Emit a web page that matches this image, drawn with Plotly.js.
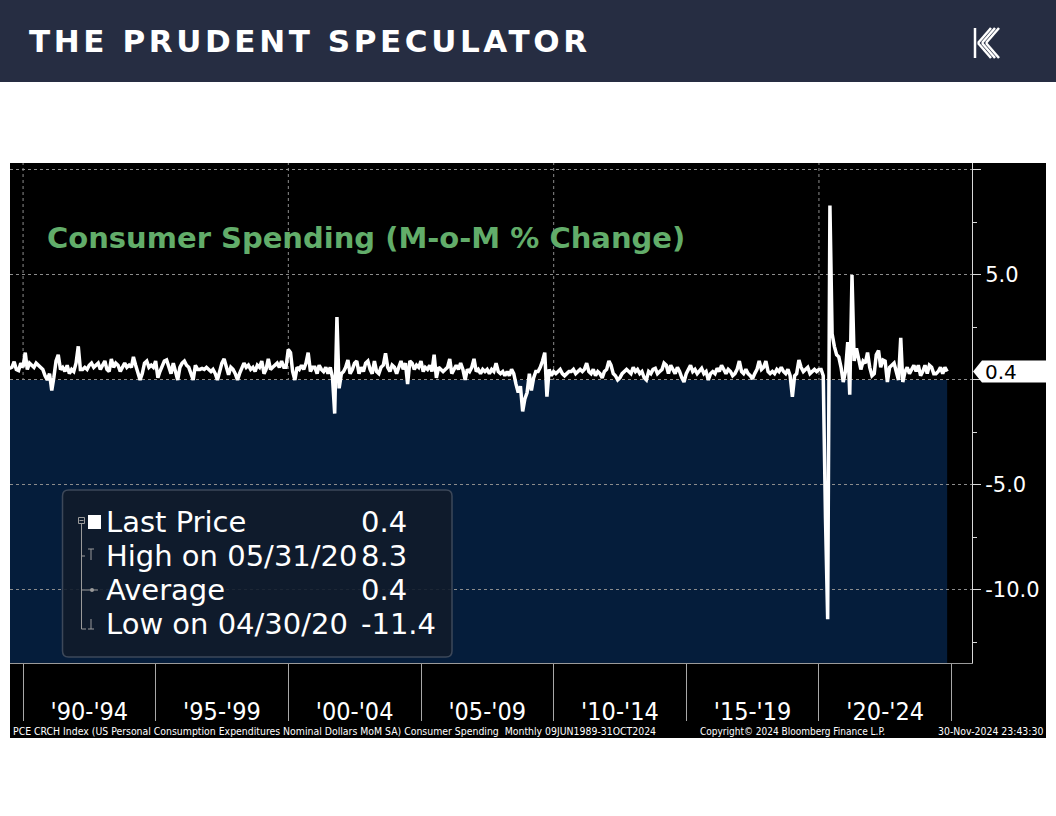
<!DOCTYPE html>
<html>
<head>
<meta charset="utf-8">
<script src="https://cdn.plot.ly/plotly-3.0.1.min.js"></script>
<style>
  html, body { margin: 0; padding: 0; background: #ffffff; }
  #chart { width: 1056px; height: 816px; }
  .annotation[data-index="0"] text { letter-spacing: 3.6px; }
</style>
</head>
<body>
<div id="chart"></div>
<script>
// Consumer Spending, PCE month-over-month % change (Bloomberg style chart)

// monthly values, Jun 1989 .. Oct 2024
const p1989to1994 = [
    0.55, 0.6, 0.87, 0.5, 0.45, 0.8, 0.6,
    1.3, 0.5, 0.8, 0.7, 0.6, 0.8, 0.7, 0.6, 0.5, 0.2, 0.0, 0.3,
    -0.5, 0.1, 0.9, 1.2, 0.5, 0.6, 0.4, 0.7, 0.3, 0.5, 0.4, 0.8,
    1.6, 0.5, 0.5, 0.6, 0.5, 0.7, 0.8, 0.6, 0.7, 0.8, 0.5, 0.7,
    0.9, 0.5, 0.4, 1.0, 0.6, 0.8, 0.7, 0.4, 0.6, 0.8, 0.6, 0.7,
    0.6, 1.1, 0.7, 0.4, 0.0, 0.3, 0.8, 0.9, 0.6, 0.7, 0.6, 0.9
];
const p1995to1999 = [
    0.1, 0.4, 0.7, 0.9, 0.95, 0.6, 0.3, 0.8, 0.4, 0.0, 0.6, 0.8,
    0.9, 0.7, 0.6, 0.3, 0.0, 0.7, 0.5, 0.5, 0.55, 0.5, 0.6, 0.5,
    0.4, 0.5, 0.3, 0.0, 0.4, 0.8, 1.0, 0.6, 0.25, 0.6, 0.5, 0.3,
    0.0, 0.3, 0.6, 0.8, 0.6, 0.7, 0.5, 0.6, 0.4, 0.7, 0.6, 0.9,
    0.3, 0.5, 1.0, 0.5, 0.6, 0.7, 0.8, 0.6, 0.9, 0.6, 0.6, 1.45
];
const p2000to2004 = [
    1.3, 0.4, 0.0, 0.6, 0.5, 0.7, 0.5, 0.8, 1.3, 0.4, 0.6, 0.6,
    0.3, 0.7, 0.5, 0.4, 0.6, 0.3, 0.6, 0.1, -1.6, 3.0, -0.4, 0.3,
    0.4, 0.6, 0.95, 0.3, 0.5, 0.8, 0.9, 0.3, 0.6, 0.4, 0.8, 0.9,
    0.5, 0.3, 0.9, 0.4, 0.3, 0.6, 0.7, 1.27, 0.6, 0.4, 0.7, 0.6,
    0.3, 0.6, 0.9, 0.5, 0.8, -0.2, 0.9, 0.8, 0.5, 0.7, 0.6, 0.9
];
const p2005to2009 = [
    0.4, 0.6, 0.5, 0.7, 0.4, 1.2, 0.1, 0.6, 0.5, 0.4, 0.5, 0.6,
    1.0, 0.3, 0.5, 0.7, 0.5, 0.8, 0.5, 0.0, 0.5, 0.4, 0.6, 1.0,
    0.4, 0.5, 0.3, 0.5, 0.4, 0.5, 0.3, 0.5, 0.4, 0.8, 0.4, 0.3,
    0.4, 0.2, 0.4, 0.2, 0.5, 0.3, -0.2, -0.6, -0.3, -1.5, -0.9, -0.6,
    0.3, -0.5, 0.1, 0.4, 0.4, 0.6, 0.9, 1.3, -0.8, 0.5, 0.2, 0.4
];
const p2010to2014 = [
    0.3, 0.4, 0.5, 0.3, 0.2, 0.3, 0.4, 0.4, 0.5, 0.3, 0.4, 0.5,
    0.4, 0.5, 0.8, 0.4, 0.3, 0.5, 0.2, 0.4, 0.3, 0.1, 0.4, 0.5,
    0.9, 0.7, 0.3, 0.2, 0.0, 0.1, 0.3, 0.4, 0.5, 0.4, 0.3, 0.6,
    0.4, 0.5, 0.3, 0.4, 0.1, 0.0, 0.4, 0.3, 0.5, 0.55, 0.3, 0.4,
    0.5, 0.8, 0.7, 0.3, 0.7, 0.5, 0.3, 0.6, 0.4, 0.1, -0.1, 0.3
];
const p2015to2019 = [
    0.5, 0.7, 0.4, 0.5, 0.3, 0.4, 0.55, 0.3, 0.4, 0.0, 0.3, 0.4,
    0.3, 0.55, 0.4, 0.7, 0.5, 0.3, 0.5, 0.4, 0.2, 0.3, 0.5, 0.9,
    0.4, 0.3, 0.5, 0.3, 0.2, 0.05, 0.3, 0.5, 0.9, 0.5, 0.6, 0.9,
    0.4, 0.3, 0.4, 0.3, 0.5, 0.4, 0.6, 0.4, 0.3, 0.5, 0.2, -0.8,
    0.2, 0.3, 0.95, 0.6, 0.4, 0.5, 0.6, 0.3, 0.4, 0.5, 0.4, 0.5
];
const p2020to2024 = [
    0.5, 0.2, -6.6, -11.4, 8.3, 2.2, 1.6, 1.2, 1.1, 0.6, -0.1, 0.4,
    1.8, -0.7, 5.0, 0.9, 1.5, 1.0, 0.5, 0.9, 0.8, 1.3, 0.6, 0.2,
    0.3, 1.2, 1.4, 0.6, 0.95, 0.9, -0.1, 0.6, 0.7, 0.8, 0.4, 0.0,
    2.0, -0.1, 0.4, 0.6, 0.3, 0.5, 0.7, 0.4, 0.7, 0.2, 0.4, 0.7,
    0.3, 0.7, 0.6, 0.3, 0.3, 0.4, 0.6, 0.3, 0.6, 0.4
];
const firstYear = 1989;
const firstMonth = 6;

// x axis bands
const periodLabels = ["'90-'94", "'95-'99", "'00-'04", "'05-'09", "'10-'14", "'15-'19", "'20-'24"];
const periodMids = ['1992-07-01', '1997-07-01', '2002-07-01', '2007-07-01', '2012-07-01', '2017-07-01', '2022-07-01'];
const periodEdges = ['1990-01-01', '1995-01-01', '2000-01-01', '2005-01-01', '2010-01-01', '2015-01-01', '2020-01-01', '2025-01-01'];
const decadeLines = ['1990-01-01', '2000-01-01', '2010-01-01', '2020-01-01'];

// y axis
const yTickVals = [-10, -5, 0, 5, 10];
const yTickText = ['-10.0', '-5.0', '', '5.0', ''];
const yMinorVals = [-12.5, -7.5, -2.5, 2.5, 7.5];

// legend box rows, as printed on the chart
const legendNames = ['Last Price', 'High on 05/31/20', 'Average', 'Low on 04/30/20'];
const legendValues = ['0.4', '8.3', '0.4', '-11.4'];

// =========================================================================

const W = 1056, H = 816;
const px = x => x / W;
const py = y => 1 - y / H;

const values = [].concat(p1989to1994, p1995to1999, p2000to2004, p2005to2009,
    p2010to2014, p2015to2019, p2020to2024);

// month-end dates
const dates = values.map((v, i) => {
    const d = new Date(Date.UTC(firstYear, firstMonth - 1 + i + 1, 0));
    return d.toISOString().slice(0, 10);
});

const yRange = [-13.48, 10.33];
const lastValue = values[values.length - 1];

const grey = '#8c8c8c';
const shapes = [];

// header band and chart background
shapes.push({type: 'rect', xref: 'paper', yref: 'paper', layer: 'below',
    x0: 0, x1: 1, y0: py(82), y1: 1, fillcolor: '#262d42', line: {width: 0}});
shapes.push({type: 'rect', xref: 'paper', yref: 'paper', layer: 'below',
    x0: px(10), x1: px(1046), y0: py(738), y1: py(163), fillcolor: '#000000', line: {width: 0}});

// navy block under the series
shapes.push({type: 'rect', xref: 'x', yref: 'y', layer: 'below',
    x0: dates[0], x1: dates[dates.length - 1], y0: yRange[0], y1: 0,
    fillcolor: '#051d3b', line: {width: 0}});

// decade gridlines
decadeLines.forEach(d => {
    shapes.push({type: 'line', xref: 'x', yref: 'paper', layer: 'between',
        x0: d, x1: d, y0: py(663), y1: py(163),
        line: {color: grey, width: 1, dash: 'dot'}});
});

// legend box, rounded corners
const lx0 = px(62.5), lx1 = px(452), ly0 = py(490), ly1 = py(657);
const rx = px(6), ry = 6 / H;
shapes.push({type: 'path', xref: 'paper', yref: 'paper', layer: 'above',
    path: `M ${lx0 + rx},${ly0} L ${lx1 - rx},${ly0} Q ${lx1},${ly0} ${lx1},${ly0 - ry} ` +
          `L ${lx1},${ly1 + ry} Q ${lx1},${ly1} ${lx1 - rx},${ly1} L ${lx0 + rx},${ly1} ` +
          `Q ${lx0},${ly1} ${lx0},${ly1 + ry} L ${lx0},${ly0 - ry} Q ${lx0},${ly0} ${lx0 + rx},${ly0} Z`,
    fillcolor: 'rgba(17,28,43,0.9)', line: {color: '#3d4859', width: 1.5}});

// legend tree glyphs
const treeLine = {color: '#9a9a9a', width: 1};
function seg(x0, y0, x1, y1, line) {
    shapes.push({type: 'line', xref: 'paper', yref: 'paper', layer: 'above',
        x0: px(x0), y0: py(y0), x1: px(x1), y1: py(y1), line: line || treeLine});
}
shapes.push({type: 'rect', xref: 'paper', yref: 'paper', layer: 'above',
    x0: px(78.5), x1: px(84.5), y0: py(523.5), y1: py(517.5), line: treeLine});
seg(79.5, 520.5, 83.5, 520.5);
seg(81.5, 523.5, 81.5, 629);
seg(81.5, 556, 85, 556);
seg(81.5, 629, 86, 629);
seg(88, 549, 94, 549);
seg(91, 549, 91, 560);
seg(82, 590, 98, 590);
shapes.push({type: 'circle', xref: 'paper', yref: 'paper', layer: 'above',
    x0: px(90), x1: px(94), y0: py(592), y1: py(588), fillcolor: '#9a9a9a', line: {width: 0}});
seg(91, 619, 91, 629);
seg(88, 629, 94, 629);
shapes.push({type: 'rect', xref: 'paper', yref: 'paper', layer: 'above',
    x0: px(88), x1: px(101), y0: py(529), y1: py(515), fillcolor: '#ffffff', line: {width: 0}});

// last price tag on the right axis
const tagHalf = 11 / 21;
shapes.push({type: 'path', xref: 'paper', yref: 'y', layer: 'above',
    path: `M ${px(973)},${lastValue} L ${px(982)},${lastValue + tagHalf} L 1,${lastValue + tagHalf} ` +
          `L 1,${lastValue - tagHalf} L ${px(982)},${lastValue - tagHalf} Z`,
    fillcolor: '#ffffff', line: {width: 0}});

// logo, a K made of stripes
const logoLine = {color: '#ffffff', width: 2.5};
seg(975, 28, 975, 58, logoLine);
[0, 1, 2].forEach(i => {
    seg(978 + 4 * i, 43, 991 + 4 * i, 28, logoLine);
    seg(978 + 4 * i, 43, 991 + 4 * i, 58, logoLine);
});

// =========================================================================

const annotations = [];
annotations.push({xref: 'paper', yref: 'paper', x: px(27), y: py(41), xanchor: 'left', yanchor: 'middle',
    align: 'left', showarrow: false, text: '<b>THE PRUDENT SPECULATOR</b>',
    font: {family: 'DejaVu Sans', size: 31, color: '#ffffff'}});
annotations.push({xref: 'paper', yref: 'paper', x: px(45), y: py(238), xanchor: 'left', yanchor: 'middle',
    align: 'left', showarrow: false, text: '<b>Consumer Spending (M-o-M % Change)</b>',
    font: {family: 'DejaVu Sans', size: 29, color: '#62ad6a'}});

const rowY = [522, 556, 590, 624];
legendNames.forEach((name, i) => {
    annotations.push({xref: 'paper', yref: 'paper', x: px(104), y: py(rowY[i]), xanchor: 'left', yanchor: 'middle',
        align: 'left', showarrow: false, text: name,
        font: {family: 'DejaVu Sans', size: 29, color: '#ffffff'}});
    annotations.push({xref: 'paper', yref: 'paper', x: px(359), y: py(rowY[i]), xanchor: 'left', yanchor: 'middle',
        align: 'left', showarrow: false, text: legendValues[i],
        font: {family: 'DejaVu Sans', size: 29, color: '#ffffff'}});
});

annotations.push({xref: 'paper', yref: 'y', x: px(983), y: lastValue, xanchor: 'left', yanchor: 'middle',
    showarrow: false, text: lastValue.toFixed(1),
    font: {family: 'DejaVu Sans', size: 20, color: '#000000'}});

const footFont = {family: 'DejaVu Sans Condensed, DejaVu Sans', size: 10.4, color: '#ffffff'};
annotations.push({xref: 'paper', yref: 'paper', x: px(11), y: py(731), xanchor: 'left', yanchor: 'middle',
    showarrow: false, font: footFont,
    text: 'PCE CRCH Index (US Personal Consumption Expenditures Nominal Dollars MoM SA) Consumer Spending  Monthly 09JUN1989-31OCT2024'});
annotations.push({xref: 'paper', yref: 'paper', x: px(698), y: py(731), xanchor: 'left', yanchor: 'middle',
    showarrow: false, font: Object.assign({}, footFont, {size: 10}), text: 'Copyright© 2024 Bloomberg Finance L.P.'});
annotations.push({xref: 'paper', yref: 'paper', x: px(1045), y: py(731), xanchor: 'right', yanchor: 'middle',
    showarrow: false, font: footFont, text: '30-Nov-2024 23:43:30'});

// =========================================================================

const data = [{
    x: dates,
    y: values,
    type: 'scatter',
    mode: 'lines',
    hoverinfo: 'skip',
    line: {color: '#ffffff', width: 3.5}
}];

const layout = {
    width: W,
    height: H,
    margin: {l: 0, r: 0, t: 0, b: 0},
    paper_bgcolor: '#ffffff',
    plot_bgcolor: '#000000',
    showlegend: false,
    hovermode: false,
    xaxis: {
        type: 'date',
        domain: [px(10), px(972)],
        range: ['1989-07-05', '2025-10-08'],
        tickmode: 'array',
        tickvals: periodMids,
        ticktext: periodLabels,
        ticks: '',
        ticklabelstandoff: 26,
        tickfont: {family: 'DejaVu Sans Condensed, DejaVu Sans', size: 25, color: '#ffffff'},
        showgrid: false,
        zeroline: false,
        showline: true,
        linecolor: '#9a9a9a',
        linewidth: 1,
        minor: {
            tickmode: 'array',
            tickvals: periodEdges,
            ticks: 'outside',
            ticklen: 57,
            tickwidth: 1,
            tickcolor: '#a8a8a8',
            showgrid: false
        },
        fixedrange: true
    },
    yaxis: {
        side: 'right',
        domain: [py(663), py(163)],
        range: yRange,
        tickmode: 'array',
        tickvals: yTickVals,
        ticktext: yTickText,
        ticks: 'outside',
        ticklen: 8,
        tickwidth: 1,
        tickcolor: '#d8d8d8',
        tickfont: {family: 'DejaVu Sans', size: 21, color: '#ffffff'},
        showgrid: true,
        gridcolor: grey,
        gridwidth: 1,
        griddash: 'dot',
        zeroline: false,
        showline: true,
        linecolor: '#d8d8d8',
        linewidth: 1,
        minor: {
            tickmode: 'array',
            tickvals: yMinorVals,
            ticks: 'outside',
            ticklen: 4,
            tickcolor: '#d8d8d8',
            showgrid: false
        },
        fixedrange: true
    },
    shapes: shapes,
    annotations: annotations
};

const config = {displayModeBar: false, staticPlot: true};

Plotly.newPlot('chart', data, layout, config);
</script>
</body>
</html>
